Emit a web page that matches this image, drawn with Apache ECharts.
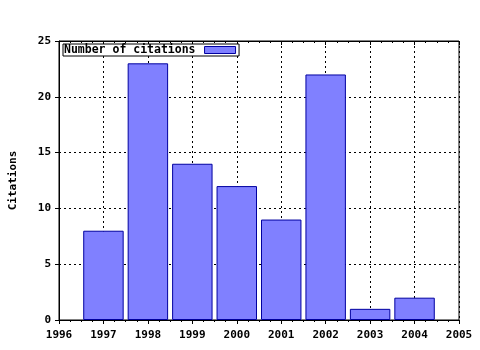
<!DOCTYPE html>
<html><head><meta charset="utf-8">
<script src="https://cdn.jsdelivr.net/npm/echarts@6/dist/echarts.min.js"></script>
<style>html,body{margin:0;padding:0;background:#fff}#c{width:480px;height:350px}</style>
</head><body><div id="c"></div>
<script>
var years = [1997, 1998, 1999, 2000, 2001, 2002, 2003, 2004];
var citations = [8, 23, 14, 12, 9, 22, 1, 2];
var seriesName = 'Number of citations';
var yTitle = 'Citations';
var xMin = 1996, xMax = 2005, yMin = 0, yMax = 25;

var font = {fontFamily: 'DejaVu Sans Mono', fontWeight: 'bold', fontSize: 11, color: '#000'};
var chart = echarts.init(document.getElementById('c'), null, {renderer: 'canvas'});
chart.setOption({
  animation: false,
  backgroundColor: '#fff',
  grid: {left: 57, right: 21, top: 41, bottom: 30, show: true, borderColor: '#000', borderWidth: 1, backgroundColor: 'transparent'},
  legend: {
    left: 63, top: 44, padding: [0, 3, 0, 1], itemGap: 0,
    borderColor: '#000', borderWidth: 1, backgroundColor: '#fff',
    align: 'right', icon: 'rect', itemWidth: 31, itemHeight: 7,
    itemStyle: {borderWidth: 1, borderColor: '#0000a0'},
    textStyle: {fontFamily: 'DejaVu Sans Mono', fontWeight: 'bold', fontSize: 11.5, color: '#000', padding: [0, 4, 0, 0]},
    data: [seriesName]
  },
  xAxis: [{
    type: 'value', min: xMin, max: xMax, interval: 1,
    axisLine: {show: true, lineStyle: {color: '#000', width: 1}},
    axisTick: {show: true, length: 4, lineStyle: {color: '#000'}},
    minorTick: {show: true, splitNumber: 4, length: 2, lineStyle: {color: '#000'}},
    axisLabel: Object.assign({margin: 10, formatter: function (v) { return String(v); }}, font),
    splitLine: {show: true, lineStyle: {color: '#000', type: [2, 3], width: 1}}
  }, {
    type: 'value', position: 'top', min: xMin, max: xMax, interval: 1,
    axisLine: {show: true, lineStyle: {color: '#000'}},
    axisTick: {show: true, inside: true, length: 4, lineStyle: {color: '#000'}},
    minorTick: {show: true, splitNumber: 4, length: 2, lineStyle: {color: '#000'}},
    axisLabel: {show: false}, splitLine: {show: false}
  }],
  yAxis: {
    type: 'value', min: yMin, max: yMax, interval: 5,
    name: yTitle, nameLocation: 'middle', nameGap: 40, nameRotate: 90,
    nameTextStyle: font,
    axisLine: {show: true, lineStyle: {color: '#000'}},
    axisTick: {show: true, length: 4, lineStyle: {color: '#000'}},
    axisLabel: Object.assign({margin: 8}, font),
    splitLine: {show: true, lineStyle: {color: '#000', type: [2, 3], width: 1}}
  },
  series: [{
    name: seriesName, type: 'bar', xAxisIndex: 0,
    barWidth: '91%',
    data: years.map(function (y, i) { return [y, citations[i]]; }),
    itemStyle: {color: '#8080ff', borderColor: '#0000a0', borderWidth: 1}
  }]
});
</script></body></html>
